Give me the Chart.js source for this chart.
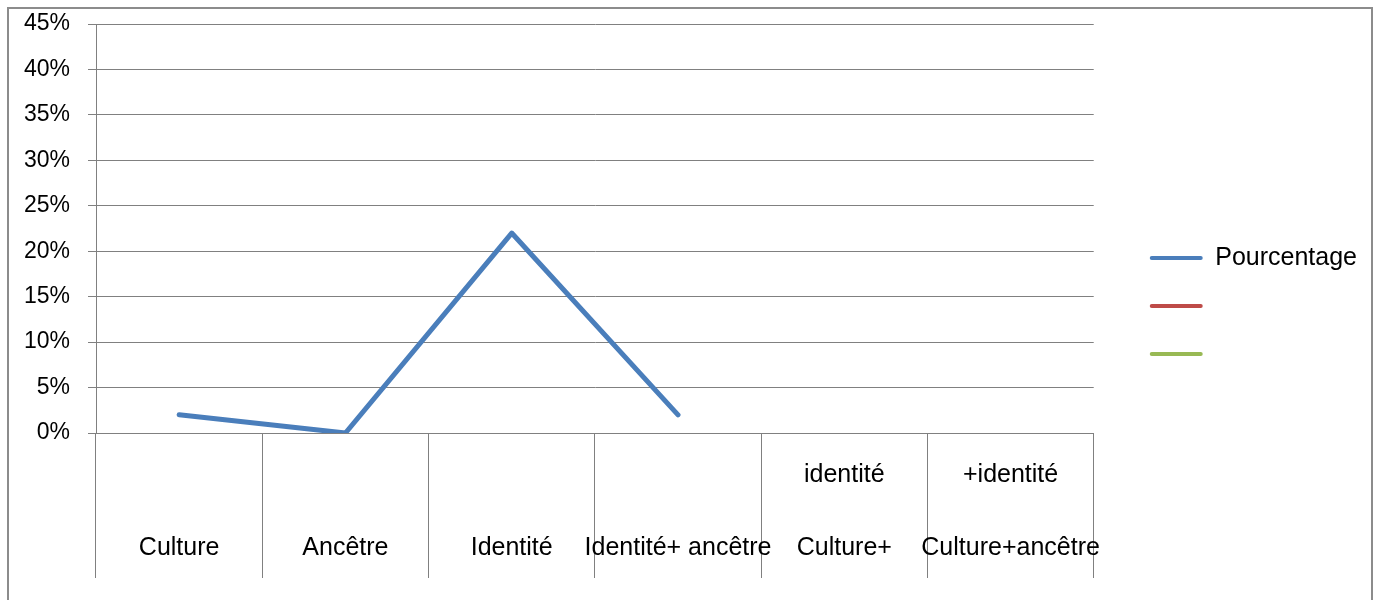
<!DOCTYPE html>
<html>
<head>
<meta charset="utf-8">
<script src="https://cdn.jsdelivr.net/npm/chart.js@4/dist/chart.umd.min.js"></script>
<style>
  html, body { margin: 0; padding: 0; background: #fff; overflow: hidden; }
  #frame { position: absolute; left: 7px; top: 7px; width: 1362px; height: 620px; border: 2px solid #8c8c8c; }
  #wrap { position: absolute; left: 0; top: 0; width: 1379px; height: 600px; }
</style>
</head>
<body>
<div id="frame"></div>
<div id="wrap"><canvas id="chart"></canvas></div>
<script>
// categories, two text lines each (upper line, lower line)
const categories = [
  ['', 'Culture'],
  ['', 'Ancêtre'],
  ['', 'Identité'],
  ['', 'Identité+ ancêtre'],
  ['identité', 'Culture+'],
  ['+identité', 'Culture+ancêtre']
];
const pourcentage = [2, 0, 22, 2, null, null];
const serie2 = [null, null, null, null, null, null];
const serie3 = [null, null, null, null, null, null];
const yMax = 45;
const yStep = 5;

const gridColor = '#808080';
const fontFamily = "'Liberation Sans', Arial, sans-serif";

const ctx = document.getElementById('chart').getContext('2d');
new Chart(ctx, {
  type: 'line',
  data: {
    labels: categories,
    datasets: [
      { label: 'Pourcentage', data: pourcentage, borderColor: '#4A7EBB', backgroundColor: '#4A7EBB',
        borderWidth: 5, pointRadius: 0, tension: 0, borderJoinStyle: 'round', borderCapStyle: 'round' },
      { label: '', data: serie2, borderColor: '#BE4B48', backgroundColor: '#BE4B48', borderWidth: 5, pointRadius: 0 },
      { label: '', data: serie3, borderColor: '#98B954', backgroundColor: '#98B954', borderWidth: 5, pointRadius: 0 }
    ]
  },
  options: {
    responsive: true,
    maintainAspectRatio: false,
    animation: false,
    layout: { padding: { left: 0, top: 24, right: 12, bottom: 12 } },
    plugins: {
      tooltip: { enabled: false },
      legend: {
        position: 'right',
        align: 'center',
        maxWidth: 300,
        labels: {
          boxWidth: 53,
          boxHeight: 4,
          padding: 23,
          color: '#000',
          font: { family: fontFamily, size: 25 },
          generateLabels(chart) {
            return chart.data.datasets.map((ds, i) => ({
              text: ds.label,
              fillStyle: ds.borderColor,
              strokeStyle: ds.borderColor,
              lineWidth: 0,
              borderRadius: 2,
              datasetIndex: i
            }));
          }
        }
      }
    },
    scales: {
      x: {
        offset: true,
        grid: { offset: true, drawOnChartArea: false, drawTicks: true, tickLength: 145, color: gridColor },
        border: { display: true, color: gridColor },
        ticks: {
          autoSkip: false, maxRotation: 0, minRotation: 0,
          padding: -139.5,
          color: '#000',
          font: { family: fontFamily, size: 25, lineHeight: 73 / 25 }
        },
        afterFit(scale) { scale.height = 155; }
      },
      y: {
        min: 0,
        max: yMax,
        grid: { color: gridColor, tickLength: 8, drawTicks: true },
        border: { display: true, color: gridColor },
        ticks: {
          stepSize: yStep,
          padding: 18,
          color: '#000',
          font: { family: fontFamily, size: 23 },
          callback: v => v + '%'
        },
        afterFit(scale) {
          scale.width = 96;
          scale.paddingTop = 0;
          scale.paddingBottom = 0;
        }
      },
      // empty right axis, keeps a gap between the plot and the legend
      gap: {
        type: 'linear',
        position: 'right',
        display: true,
        grid: { display: false, drawTicks: false },
        border: { display: false },
        ticks: { display: false },
        afterFit(scale) { scale.width = 33; }
      }
    }
  }
});
</script>
</body>
</html>
